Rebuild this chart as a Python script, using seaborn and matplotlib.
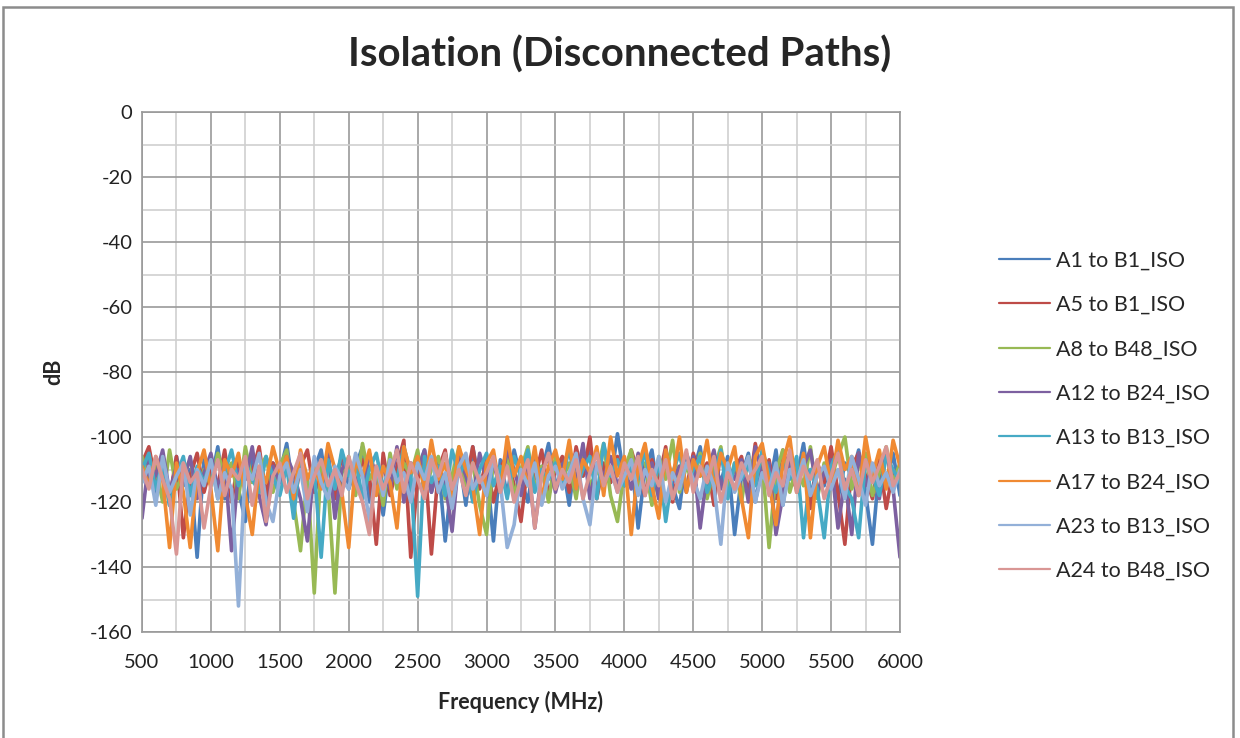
import numpy as np
import pandas as pd
import matplotlib
matplotlib.use("Agg")
import matplotlib.pyplot as plt
import seaborn as sns
from matplotlib.patches import Rectangle
from matplotlib.ticker import MultipleLocator

# frequency grid (MHz), one reading every 50 MHz
FREQ = np.arange(500, 6001, 50)

# values, one row per 500 MHz span (dB)
A1_B1 = [-112, -104, -118, -108, -121, -106, -115, -110, -137, -107,
         -114, -103, -119, -109, -116, -126, -105, -113, -120, -108,
         -111, -102, -117, -107, -122, -110, -104, -118, -113, -106,
         -116, -109, -103, -120, -112, -124, -107, -114, -105, -119,
         -110, -104, -117, -108, -132, -112, -106, -121, -103, -115,
         -109, -132, -107, -118, -104, -113, -120, -106, -111, -102,
         -116, -108, -121, -105, -112, -103, -117, -109, -114, -99,
         -113, -106, -128, -110, -104, -119, -107, -115, -122, -105,
         -111, -103, -118, -108, -114, -106, -130, -112, -105, -120,
         -109, -116, -104, -121, -107, -113, -102, -118, -110, -115,
         -106, -119, -108, -112, -104, -117, -133, -109, -114, -105,
         -118]
A5_B1 = [-108, -103, -114, -110, -119, -106, -131, -112, -105, -117,
         -109, -115, -104, -120, -107, -113, -111, -103, -118, -108,
         -114, -106, -121, -109, -104, -117, -112, -107, -119, -105,
         -111, -116, -107, -112, -133, -105, -118, -109, -101, -137,
         -113, -106, -136, -110, -104, -119, -108, -114, -103, -116,
         -107, -120, -110, -105, -115, -126, -108, -113, -104, -118,
         -110, -106, -117, -103, -112, -100, -119, -108, -114, -106,
         -115, -104, -111, -118, -107, -113, -103, -120, -109, -116,
         -105, -112, -108, -121, -104, -115, -110, -106, -118, -102,
         -113, -107, -119, -104, -111, -116, -106, -122, -108, -114,
         -103, -117, -133, -109, -105, -112, -119, -107, -122, -110,
         -112]
A8_B48 = [-106, -113, -109, -120, -104, -116, -111, -107, -118, -110,
          -115, -105, -112, -108, -119, -103, -114, -110, -106, -117,
          -109, -104, -120, -135, -112, -148, -107, -115, -148, -111,
          -106, -118, -102, -113, -109, -121, -105, -116, -108, -112,
          -104, -117, -110, -106, -119, -112, -103, -115, -108, -121,
          -130, -107, -114, -105, -118, -110, -103, -116, -109, -120,
          -106, -113, -108, -119, -104, -115, -111, -102, -118, -126,
          -110, -104, -116, -108, -121, -106, -113, -101, -117, -109,
          -114, -105, -119, -110, -103, -116, -108, -120, -106, -112,
          -107, -134, -111, -104, -117, -109, -115, -103, -119, -108,
          -113, -106, -100, -116, -109, -105, -118, -111, -103, -114,
          -108]
A12_B24 = [-125, -107, -112, -104, -117, -109, -114, -106, -119, -111,
           -105, -116, -108, -135, -110, -113, -103, -118, -127, -109,
           -114, -106, -111, -119, -132, -108, -115, -104, -125, -110,
           -107, -113, -118, -105, -112, -109, -116, -103, -120, -108,
           -111, -104, -117, -109, -114, -129, -106, -112, -119, -105,
           -113, -108, -116, -104, -110, -118, -107, -128, -111, -106,
           -117, -109, -104, -114, -102, -119, -108, -112, -106, -115,
           -110, -116, -105, -112, -108, -119, -104, -114, -109, -117,
           -106, -128, -111, -104, -116, -109, -113, -107, -120, -103,
           -112, -108, -130, -118, -105, -114, -109, -104, -117, -111,
           -107, -128, -113, -130, -105, -115, -109, -119, -104, -116,
           -137]
A13_B13 = [-110, -105, -116, -108, -121, -112, -106, -118, -109, -114,
           -107, -119, -111, -104, -115, -108, -113, -117, -106, -112,
           -118, -109, -125, -105, -113, -110, -137, -107, -116, -104,
           -112, -107, -119, -110, -105, -116, -108, -113, -103, -111,
           -149, -106, -114, -109, -118, -104, -112, -107, -120, -110,
           -105, -115, -109, -119, -106, -112, -104, -117, -110, -113,
           -108, -114, -103, -116, -110, -106, -119, -102, -112, -107,
           -115, -109, -113, -104, -118, -107, -126, -111, -105, -116,
           -110, -106, -117, -112, -104, -119, -108, -113, -109, -115,
           -104, -111, -117, -108, -113, -106, -131, -110, -116, -131,
           -109, -104, -115, -119, -131, -107, -112, -118, -106, -110,
           -114]
A17_B24 = [-109, -115, -106, -113, -134, -108, -117, -134, -111, -104,
           -116, -135, -107, -112, -105, -118, -130, -109, -114, -103,
           -111, -106, -119, -104, -113, -108, -116, -102, -110, -117,
           -134, -107, -112, -104, -118, -109, -114, -128, -103, -111,
           -106, -116, -101, -113, -108, -119, -103, -110, -115, -130,
           -108, -104, -117, -100, -112, -106, -115, -103, -119, -109,
           -104, -113, -101, -116, -107, -111, -103, -118, -100, -112,
           -106, -130, -109, -102, -115, -125, -104, -113, -100, -117,
           -107, -112, -101, -116, -105, -110, -103, -119, -131, -106,
           -102, -114, -127, -108, -100, -117, -105, -131, -109, -103,
           -115, -101, -110, -106, -118, -100, -112, -104, -116, -101,
           -109]
A23_B13 = [-114, -109, -121, -106, -117, -112, -108, -124, -110, -115,
           -107, -119, -111, -116, -152, -109, -113, -105, -120, -126,
           -112, -108, -117, -110, -123, -106, -114, -119, -109, -113,
           -116, -105, -112, -126, -109, -118, -107, -114, -111, -120,
           -108, -113, -106, -117, -111, -122, -109, -105, -116, -112,
           -118, -107, -114, -134, -127, -110, -115, -108, -121, -112,
           -109, -116, -111, -105, -119, -127, -108, -114, -110, -117,
           -112, -107, -118, -110, -115, -106, -120, -111, -116, -108,
           -113, -119, -109, -115, -133, -108, -117, -112, -106, -120,
           -111, -116, -108, -121, -110, -114, -107, -118, -112, -109,
           -116, -110, -119, -106, -113, -121, -108, -115, -111, -117,
           -110]
A24_B48 = [-110, -116, -106, -113, -119, -136, -108, -114, -111, -128,
           -115, -107, -118, -110, -113, -106, -121, -109, -126, -112,
           -108, -117, -111, -105, -119, -112, -107, -115, -110, -118,
           -106, -114, -120, -130, -109, -116, -111, -104, -117, -108,
           -113, -119, -107, -112, -105, -116, -110, -118, -108, -114,
           -111, -106, -117, -109, -120, -113, -107, -128, -112, -105,
           -116, -110, -114, -107, -119, -111, -105, -115, -109, -117,
           -108, -113, -106, -118, -110, -115, -107, -119, -112, -104,
           -117, -109, -114, -106, -120, -111, -116, -108, -113, -110,
           -106, -118, -111, -115, -104, -117, -109, -113, -107, -119,
           -112, -105, -116, -110, -118, -107, -114, -109, -103, -115,
           -111]

SERIES = ["A1 to B1_ISO", "A5 to B1_ISO", "A8 to B48_ISO", "A12 to B24_ISO",
          "A13 to B13_ISO", "A17 to B24_ISO", "A23 to B13_ISO", "A24 to B48_ISO"]
VALUES = [A1_B1, A5_B1, A8_B48, A12_B24, A13_B13, A17_B24, A23_B13, A24_B48]
COLORS = ["#4A7EBB", "#BE4B48", "#98B954", "#7D60A0",
          "#46AAC5", "#F08A32", "#93B0D8", "#D99694"]

long = pd.concat([pd.DataFrame({"freq": FREQ, "dB": v, "series": s})
                  for s, v in zip(SERIES, VALUES)], ignore_index=True)

sns.set_style("white")
plt.rcParams["font.family"] = ["Lato", "DejaVu Sans"]
plt.rcParams["axes.unicode_minus"] = False

fig = plt.figure(figsize=(12.4, 7.38), dpi=100)
ax = fig.add_axes([142 / 1240, 1 - 632 / 738, 758 / 1240, 520 / 738])

sns.lineplot(data=long, x="freq", y="dB", hue="series", hue_order=SERIES,
             palette=COLORS, estimator=None, sort=False, linewidth=2.6,
             legend=False, ax=ax)

ax.set_xlim(500, 6000)
ax.set_ylim(-160, 0)
ax.xaxis.set_major_locator(MultipleLocator(500))
ax.xaxis.set_minor_locator(MultipleLocator(250))
ax.yaxis.set_major_locator(MultipleLocator(20))
ax.yaxis.set_minor_locator(MultipleLocator(10))
ax.grid(which="major", color="#9a9a9a", linewidth=1.2)
ax.grid(which="minor", color="#cfcfcf", linewidth=1.2)
ax.set_axisbelow(True)
for sp in ax.spines.values():
    sp.set_color("#9a9a9a")
    sp.set_linewidth(1.2)
ax.tick_params(which="major", direction="out", length=4, width=1.2,
               color="#9a9a9a", labelsize=14.5, labelcolor="#222222")
ax.tick_params(axis="x", pad=12)
ax.tick_params(axis="y", pad=3)
ax.tick_params(which="minor", length=0)

ax.set_xlabel("Frequency (MHz)", fontsize=15.5, fontweight="bold", labelpad=14)
ax.set_ylabel("dB", fontsize=15.5, fontweight="bold", labelpad=18)
fig.text(0.5, 1 - 55 / 738, "Isolation (Disconnected Paths)", ha="center",
         va="center", fontsize=29, fontweight="bold")

handles = [plt.Line2D([], [], color=c, linewidth=1.6) for c in COLORS]
fig.legend(handles, SERIES, loc="upper left", bbox_to_anchor=(990 / 1240, 1 - 242 / 738),
           frameon=False, fontsize=15.5, handlelength=2.4, handletextpad=0.25,
           labelspacing=1.13, borderaxespad=0, borderpad=0.4)

fig.add_artist(Rectangle((3 / 1240, -0.01), 1230 / 1240, 1 - 7 / 738 + 0.01,
                         transform=fig.transFigure, fill=False,
                         edgecolor="#8c8c8c", linewidth=1.8))

fig.savefig("out.png", dpi=100)
